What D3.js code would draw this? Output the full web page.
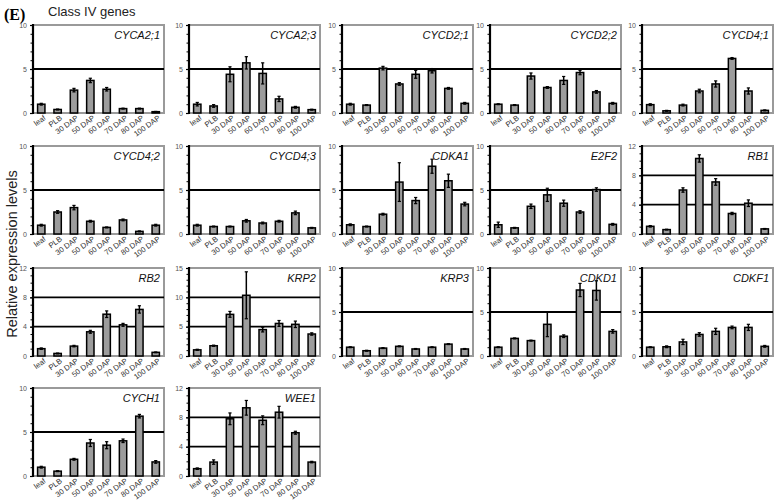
<!DOCTYPE html>
<html><head><meta charset="utf-8">
<script src="https://cdn.jsdelivr.net/npm/d3@7"></script>
<style>body{margin:0;background:#fff}svg{display:block}</style>
</head><body>
<script>
const categories = ["leaf","PLB","30 DAP","50 DAP","60 DAP","70 DAP","80 DAP","100 DAP"];
const genes = ["CYCA2;1","CYCA2;3","CYCD2;1","CYCD2;2","CYCD4;1","CYCD4;2","CYCD4;3","CDKA1","E2F2","RB1","RB2","KRP2","KRP3","CDKD1","CDKF1","CYCH1","WEE1"];
const yMax = [10,10,10,10,10,10,10,10,10,12,12,15,10,10,10,10,12];
const yTicks = [[0,5,10],[0,5,10],[0,5,10],[0,5,10],[0,5,10],[0,5,10],[0,5,10],[0,5,10],[0,5,10],[0,4,8,12],[0,4,8,12],[0,5,10,15],[0,5,10],[0,5,10],[0,5,10],[0,5,10],[0,4,8,12]];
const means = [
 [1.0,0.4,2.6,3.7,2.7,0.5,0.5,0.15],
 [1.0,0.8,4.4,5.7,4.5,1.6,0.65,0.38],
 [1.0,0.9,5.1,3.3,4.4,4.8,2.8,1.1],
 [1.0,0.9,4.2,2.9,3.7,4.6,2.4,1.1],
 [0.95,0.25,0.9,2.5,3.3,6.2,2.5,0.3],
 [1.0,2.5,3.0,1.45,0.75,1.6,0.3,1.0],
 [1.0,0.85,0.85,1.5,1.25,1.45,2.4,0.7],
 [1.05,0.85,2.25,5.9,3.8,7.7,6.05,3.4],
 [1.05,0.7,3.15,4.45,3.5,2.5,5.05,1.1],
 [1.05,0.6,6.0,10.3,7.1,2.8,4.2,0.7],
 [1.0,0.35,1.35,3.3,5.7,4.25,6.35,0.5],
 [1.05,1.75,7.1,10.35,4.5,5.55,5.4,3.75],
 [1.0,0.6,0.9,1.1,0.8,1.0,1.35,0.8],
 [1.0,2.0,1.75,3.6,2.25,7.5,7.45,2.8],
 [1.0,1.05,1.6,2.45,2.8,3.25,3.25,1.1],
 [1.0,0.55,1.9,3.75,3.5,4.0,6.8,1.6],
 [1.0,1.9,7.8,9.3,7.6,8.7,5.9,1.9]
];
const errors = [
 [0.1,0.05,0.2,0.25,0.2,0.05,0.05,0.03],
 [0.2,0.15,0.85,0.7,1.2,0.3,0.1,0.05],
 [0.1,0.05,0.2,0.15,0.45,0.25,0.1,0.1],
 [0.05,0.05,0.35,0.1,0.45,0.25,0.15,0.1],
 [0.1,0.05,0.1,0.2,0.35,0.1,0.35,0.05],
 [0.1,0.15,0.25,0.1,0.05,0.1,0.05,0.1],
 [0.1,0.05,0.05,0.15,0.1,0.1,0.2,0.05],
 [0.1,0.05,0.1,2.2,0.35,0.8,0.75,0.2],
 [0.3,0.05,0.25,0.75,0.35,0.15,0.2,0.1],
 [0.1,0.05,0.3,0.5,0.45,0.15,0.45,0.05],
 [0.1,0.05,0.1,0.2,0.45,0.2,0.5,0.05],
 [0.1,0.1,0.5,4.0,0.4,0.5,0.55,0.2],
 [0.05,0.05,0.05,0.05,0.05,0.05,0.05,0.05],
 [0.05,0.05,0.05,1.4,0.15,0.75,1.1,0.2],
 [0.05,0.1,0.3,0.2,0.35,0.15,0.35,0.1],
 [0.1,0.05,0.1,0.4,0.4,0.2,0.2,0.15],
 [0.1,0.3,0.8,1.0,0.6,0.8,0.2,0.1]
];

const W = 780, H = 502;
const svg = d3.select("body").append("svg").attr("width", W).attr("height", H);

svg.append("text").attr("x", 4).attr("y", 20).attr("font-family", "Liberation Serif, Times New Roman, serif")
  .attr("font-weight", "bold").attr("font-size", 16).text("(E)");
svg.append("text").attr("x", 48).attr("y", 16).attr("font-family", "Liberation Sans, Arial, sans-serif")
  .attr("font-size", 13).attr("fill", "#222").text("Class IV genes");
svg.append("text").attr("transform", "translate(17,254) rotate(-90)").attr("text-anchor", "middle")
  .attr("font-family", "Liberation Sans, Arial, sans-serif").attr("font-size", 14.5).attr("fill", "#222")
  .text("Relative expression levels");

const colX = [33, 189, 342, 490, 642];
const rowY = [25, 146, 268, 388];
const pw = 131, ph = 88;

genes.forEach((g, i) => {
  const c = i % 5, r = Math.floor(i / 5);
  const gx = colX[c], gy = rowY[r];
  const G = svg.append("g").attr("transform", `translate(${gx},${gy})`);
  const x = d3.scaleBand().domain(categories).range([0, pw]).paddingInner(0.55).paddingOuter(0.28);
  const y = d3.scaleLinear().domain([0, yMax[i]]).range([ph, 0]);

  G.append("rect").attr("x", 0).attr("y", 0).attr("width", pw).attr("height", ph)
    .attr("fill", "none").attr("stroke", "#9a9a9a").attr("stroke-width", 2);
  yTicks[i].filter(t => t > 0 && t < yMax[i]).forEach(t => {
    G.append("line").attr("x1", 0).attr("x2", pw).attr("y1", y(t)).attr("y2", y(t))
      .attr("stroke", "#000").attr("stroke-width", 1.8);
  });
  const minor = d3.range(0, yMax[i] + 0.001, 1);
  const axM = d3.axisLeft(y).tickValues(minor).tickSize(2.5).tickFormat("");
  const gm = G.append("g").call(axM);
  gm.select(".domain").remove();
  gm.selectAll("line").attr("stroke", "#000").attr("stroke-width", 1);
  const ax = d3.axisLeft(y).tickValues(yTicks[i]).tickSize(3).tickPadding(3).tickFormat(d3.format("d"));
  const ga = G.append("g").call(ax);
  ga.select(".domain").remove();
  ga.selectAll("line").attr("stroke", "#000").attr("stroke-width", 1.2);
  ga.selectAll("text").attr("font-family", "Liberation Sans, Arial, sans-serif").attr("font-size", 7).attr("fill", "#555");
  G.append("line").attr("x1", 0).attr("x2", 0).attr("y1", -1).attr("y2", ph + 1).attr("stroke", "#000").attr("stroke-width", 2.2);

  const bw = x.bandwidth();
  categories.forEach((cat, k) => {
    const v = means[i][k], e = errors[i][k];
    G.append("rect").attr("x", x(cat)).attr("y", y(v)).attr("width", bw).attr("height", ph - y(v))
      .attr("fill", "#9c9c9c").attr("stroke", "#000").attr("stroke-width", 1.5);
    const cx = x(cat) + bw / 2;
    const yTop = y(Math.min(v + e, yMax[i])), yBot = y(Math.max(v - e, 0));
    G.append("line").attr("x1", cx).attr("x2", cx).attr("y1", yTop).attr("y2", yBot)
      .attr("stroke", "#000").attr("stroke-width", 1.5);
    [v + e, v - e].forEach(t => {
      if (t >= 0 && t <= yMax[i]) G.append("line").attr("x1", cx - 1.6).attr("x2", cx + 1.6).attr("y1", y(t)).attr("y2", y(t))
        .attr("stroke", "#000").attr("stroke-width", 1.2);
    });
    G.append("text").attr("transform", `translate(${cx + 5},${ph + 6}) rotate(-36)`)
      .attr("text-anchor", "end").attr("font-family", "Liberation Sans, Arial, sans-serif")
      .attr("font-size", 7.6).attr("fill", "#333").text(cat);
  });

  G.append("text").attr("x", pw - 4).attr("y", 14).attr("text-anchor", "end")
    .attr("font-family", "Liberation Sans, Arial, sans-serif").attr("font-style", "italic")
    .attr("font-size", 11).attr("fill", "#111").text(g);
});
</script>
</body></html>
